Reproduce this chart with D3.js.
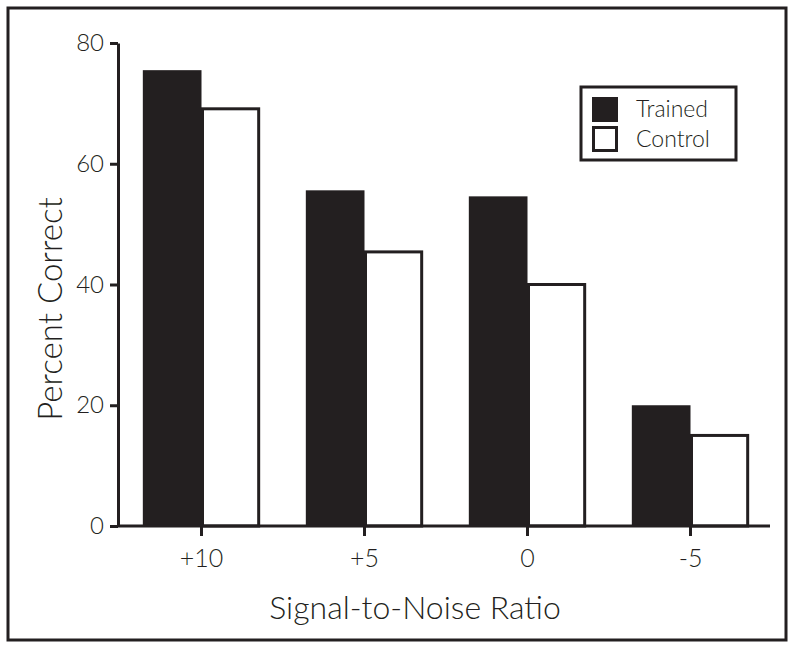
<!DOCTYPE html>
<html><head><meta charset="utf-8">
<script src="https://cdn.jsdelivr.net/npm/d3@7"></script>
<style>body{margin:0;background:#fff}svg{display:block}text{font-family:Lato,"Open Sans",sans-serif;fill:#231f20;font-weight:300}</style>
</head><body><svg id="c" width="795" height="650"></svg>
<script>
const categories = ["+10", "+5", "0", "-5"];
const seriesNames = ["Trained", "Control"];
const trained = [75.5, 55.6, 54.6, 20];
const control = [69.1, 45.4, 40, 15];
const yTicks = [0, 20, 40, 60, 80];

const ink = "#231f20";
const svg = d3.select("#c");
svg.append("rect").attr("x", 8).attr("y", 8).attr("width", 778).attr("height", 632)
  .attr("fill", "#fff").attr("stroke", ink).attr("stroke-width", 3);

const y = d3.scaleLinear().domain([0, 80]).range([526, 43]);
const x0 = d3.scaleBand().domain(categories).range([120, 772]).paddingInner(0.28).paddingOuter(0.14);
const x1 = d3.scaleBand().domain(seriesNames).range([0, x0.bandwidth()]);

const data = categories.map((c, i) => ({c, vals: [{s: "Trained", v: trained[i]}, {s: "Control", v: control[i]}]}));
const g = svg.append("g");
g.selectAll("g.grp").data(data).join("g").attr("transform", d => `translate(${x0(d.c)},0)`)
  .selectAll("rect").data(d => d.vals).join("rect")
  .attr("x", d => x1(d.s) + (d.s === "Control" ? 1 : 0))
  .attr("width", d => x1.bandwidth() - (d.s === "Control" ? 2.5 : 0))
  .attr("y", d => y(d.v))
  .attr("height", d => y(0) - y(d.v))
  .attr("fill", d => d.s === "Trained" ? ink : "#fff")
  .attr("stroke", d => d.s === "Trained" ? "none" : ink)
  .attr("stroke-width", 3);

// y axis
const ya = svg.append("g").attr("transform", "translate(118,0)")
  .call(d3.axisLeft(y).tickValues(yTicks).tickSize(8).tickPadding(6).tickSizeOuter(0));
ya.select(".domain").attr("stroke", ink).attr("stroke-width", 3);
ya.selectAll(".tick line").attr("stroke", ink).attr("stroke-width", 3);
ya.selectAll(".tick text").attr("font-size", 24).style("font-family", "Lato,sans-serif").style("font-weight", 300).attr("fill", ink);

// x axis
const xa = svg.append("g").attr("transform", "translate(0,526)")
  .call(d3.axisBottom(x0).tickSize(10).tickPadding(13).tickSizeOuter(0));
xa.select(".domain").attr("d", "M117,0H770").attr("stroke", ink).attr("stroke-width", 3);
xa.selectAll(".tick line").attr("stroke", ink).attr("stroke-width", 3);
xa.selectAll(".tick text").attr("font-size", 25).style("font-family", "Lato,sans-serif").style("font-weight", 300).attr("fill", ink);

svg.append("text").attr("transform", "translate(62,309) rotate(-90)").attr("text-anchor", "middle")
  .attr("font-size", 33).text("Percent Correct");
svg.append("text").attr("x", 415).attr("y", 619).attr("text-anchor", "middle")
  .attr("font-size", 32).text("Signal-to-Noise Ratio");

// legend
const lg = svg.append("g");
lg.append("rect").attr("x", 581).attr("y", 87).attr("width", 155).attr("height", 73)
  .attr("fill", "#fff").attr("stroke", ink).attr("stroke-width", 3);
seriesNames.forEach((s, i) => {
  lg.append("rect").attr("x", 592 + (i ? 1.5 : 0)).attr("y", 97 + i * 29 + (i ? 1.5 : 0))
    .attr("width", i ? 23 : 26).attr("height", i ? 23 : 25)
    .attr("fill", i ? "#fff" : ink).attr("stroke", i ? ink : "none").attr("stroke-width", 3);
  lg.append("text").attr("x", 636).attr("y", 109 + i * 30).attr("dy", "0.35em")
    .attr("font-size", 23).text(s);
});
</script></body></html>
